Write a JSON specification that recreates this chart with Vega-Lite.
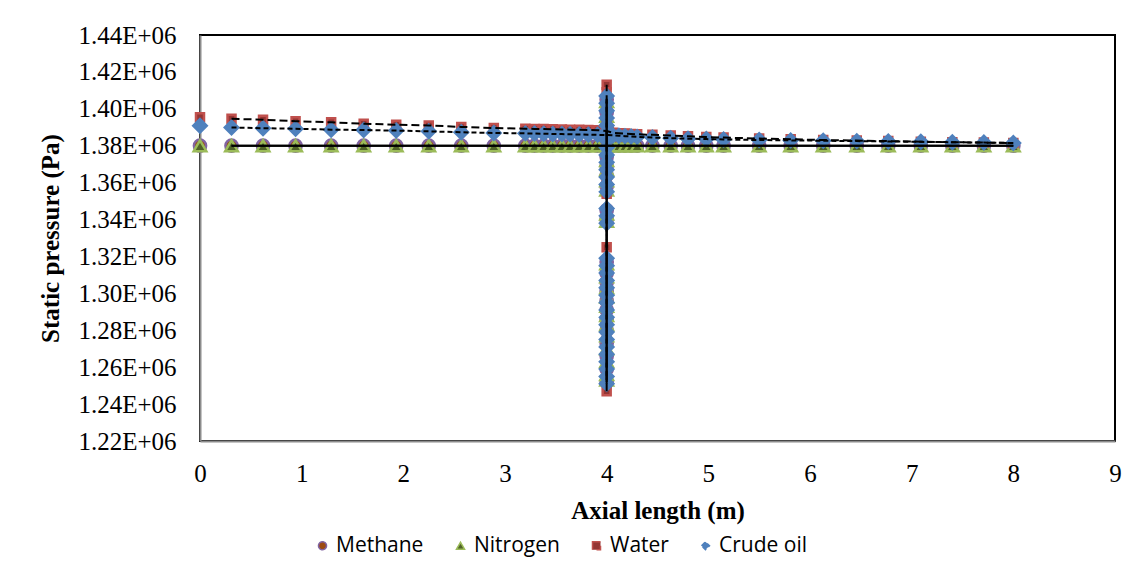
{
  "$schema": "https://vega.github.io/schema/vega-lite/v6.json",
  "width": 915,
  "height": 406,
  "autosize": "none",
  "padding": {"left": 200, "top": 35, "right": 29, "bottom": 145},
  "background": "white",
  "config": {
    "view": {"stroke": "#000000", "strokeWidth": 2},
    "axis": {
      "grid": false,
      "ticks": false,
      "domainColor": "#8c8c8c",
      "domainWidth": 2,
      "labelFont": "Liberation Serif",
      "labelFontSize": 25,
      "labelColor": "#000000",
      "labelFlush": false,
      "titleFont": "Liberation Serif",
      "titleFontSize": 25,
      "titleFontWeight": "bold",
      "titleColor": "#000000"
    },
    "legend": {
      "labelFont": "Open Sans",
      "labelFontSize": 21,
      "labelColor": "#000000",
      "symbolSize": 64,
      "symbolStrokeWidth": 1.5,
      "labelOffset": 3,
      "columnPadding": 26,
      "padding": 0
    }
  },
  "data": {
    "values": [
      {"s": "Methane", "b": "o", "x": 0, "y": 1380000},
      {"s": "Methane", "b": "h", "x": 0.31, "y": 1380000},
      {"s": "Methane", "b": "h", "x": 0.62, "y": 1380000},
      {"s": "Methane", "b": "h", "x": 0.94, "y": 1380000},
      {"s": "Methane", "b": "h", "x": 1.29, "y": 1380000},
      {"s": "Methane", "b": "h", "x": 1.61, "y": 1380000},
      {"s": "Methane", "b": "h", "x": 1.93, "y": 1380000},
      {"s": "Methane", "b": "h", "x": 2.25, "y": 1380000},
      {"s": "Methane", "b": "h", "x": 2.57, "y": 1380000},
      {"s": "Methane", "b": "h", "x": 2.89, "y": 1380000},
      {"s": "Methane", "b": "h", "x": 3.2, "y": 1380000},
      {"s": "Methane", "b": "h", "x": 3.29, "y": 1380000},
      {"s": "Methane", "b": "h", "x": 3.38, "y": 1380000},
      {"s": "Methane", "b": "h", "x": 3.47, "y": 1380000},
      {"s": "Methane", "b": "h", "x": 3.56, "y": 1380000},
      {"s": "Methane", "b": "h", "x": 3.64, "y": 1380000},
      {"s": "Methane", "b": "h", "x": 3.73, "y": 1380000},
      {"s": "Methane", "b": "h", "x": 3.82, "y": 1380000},
      {"s": "Methane", "b": "h", "x": 3.91, "y": 1380000},
      {"s": "Methane", "b": "h", "x": 4, "y": 1380000},
      {"s": "Methane", "b": "h", "x": 4.06, "y": 1380000},
      {"s": "Methane", "b": "h", "x": 4.12, "y": 1380000},
      {"s": "Methane", "b": "h", "x": 4.18, "y": 1380000},
      {"s": "Methane", "b": "h", "x": 4.24, "y": 1380000},
      {"s": "Methane", "b": "h", "x": 4.3, "y": 1380000},
      {"s": "Methane", "b": "h", "x": 4.45, "y": 1380000},
      {"s": "Methane", "b": "h", "x": 4.63, "y": 1380000},
      {"s": "Methane", "b": "h", "x": 4.8, "y": 1380000},
      {"s": "Methane", "b": "h", "x": 4.98, "y": 1380000},
      {"s": "Methane", "b": "h", "x": 5.15, "y": 1380000},
      {"s": "Methane", "b": "h", "x": 5.5, "y": 1380000},
      {"s": "Methane", "b": "h", "x": 5.81, "y": 1380000},
      {"s": "Methane", "b": "h", "x": 6.13, "y": 1380000},
      {"s": "Methane", "b": "h", "x": 6.46, "y": 1380000},
      {"s": "Methane", "b": "h", "x": 6.77, "y": 1380000},
      {"s": "Methane", "b": "h", "x": 7.09, "y": 1380000},
      {"s": "Methane", "b": "h", "x": 7.4, "y": 1380000},
      {"s": "Methane", "b": "h", "x": 7.71, "y": 1380000},
      {"s": "Methane", "b": "h", "x": 8.0, "y": 1380000},
      {"s": "Methane", "b": "v", "x": 4, "y": 1405000},
      {"s": "Methane", "b": "v", "x": 4, "y": 1398000},
      {"s": "Methane", "b": "v", "x": 4, "y": 1390000},
      {"s": "Methane", "b": "v", "x": 4, "y": 1374000},
      {"s": "Methane", "b": "v", "x": 4, "y": 1369000},
      {"s": "Methane", "b": "v", "x": 4, "y": 1364000},
      {"s": "Methane", "b": "v", "x": 4, "y": 1358000},
      {"s": "Methane", "b": "v", "x": 4, "y": 1345000},
      {"s": "Methane", "b": "v", "x": 4, "y": 1340000},
      {"s": "Methane", "b": "v", "x": 4, "y": 1317000},
      {"s": "Methane", "b": "v", "x": 4, "y": 1311000},
      {"s": "Methane", "b": "v", "x": 4, "y": 1306000},
      {"s": "Methane", "b": "v", "x": 4, "y": 1301000},
      {"s": "Methane", "b": "v", "x": 4, "y": 1296000},
      {"s": "Methane", "b": "v", "x": 4, "y": 1291000},
      {"s": "Methane", "b": "v", "x": 4, "y": 1286000},
      {"s": "Methane", "b": "v", "x": 4, "y": 1280000},
      {"s": "Methane", "b": "v", "x": 4, "y": 1273000},
      {"s": "Methane", "b": "v", "x": 4, "y": 1266000},
      {"s": "Methane", "b": "v", "x": 4, "y": 1259000},
      {"s": "Methane", "b": "v", "x": 4, "y": 1252000},

      {"s": "Nitrogen", "b": "o", "x": 0, "y": 1380000},
      {"s": "Nitrogen", "b": "h", "x": 0.31, "y": 1380000},
      {"s": "Nitrogen", "b": "h", "x": 0.62, "y": 1380000},
      {"s": "Nitrogen", "b": "h", "x": 0.94, "y": 1380000},
      {"s": "Nitrogen", "b": "h", "x": 1.29, "y": 1380000},
      {"s": "Nitrogen", "b": "h", "x": 1.61, "y": 1380000},
      {"s": "Nitrogen", "b": "h", "x": 1.93, "y": 1380000},
      {"s": "Nitrogen", "b": "h", "x": 2.25, "y": 1380000},
      {"s": "Nitrogen", "b": "h", "x": 2.57, "y": 1380000},
      {"s": "Nitrogen", "b": "h", "x": 2.89, "y": 1380000},
      {"s": "Nitrogen", "b": "h", "x": 3.2, "y": 1380000},
      {"s": "Nitrogen", "b": "h", "x": 3.29, "y": 1380000},
      {"s": "Nitrogen", "b": "h", "x": 3.38, "y": 1380000},
      {"s": "Nitrogen", "b": "h", "x": 3.47, "y": 1380000},
      {"s": "Nitrogen", "b": "h", "x": 3.56, "y": 1380000},
      {"s": "Nitrogen", "b": "h", "x": 3.64, "y": 1380000},
      {"s": "Nitrogen", "b": "h", "x": 3.73, "y": 1380000},
      {"s": "Nitrogen", "b": "h", "x": 3.82, "y": 1380000},
      {"s": "Nitrogen", "b": "h", "x": 3.91, "y": 1380000},
      {"s": "Nitrogen", "b": "h", "x": 4, "y": 1380000},
      {"s": "Nitrogen", "b": "h", "x": 4.06, "y": 1380000},
      {"s": "Nitrogen", "b": "h", "x": 4.12, "y": 1380000},
      {"s": "Nitrogen", "b": "h", "x": 4.18, "y": 1380000},
      {"s": "Nitrogen", "b": "h", "x": 4.24, "y": 1380000},
      {"s": "Nitrogen", "b": "h", "x": 4.3, "y": 1380000},
      {"s": "Nitrogen", "b": "h", "x": 4.45, "y": 1380000},
      {"s": "Nitrogen", "b": "h", "x": 4.63, "y": 1380000},
      {"s": "Nitrogen", "b": "h", "x": 4.8, "y": 1380000},
      {"s": "Nitrogen", "b": "h", "x": 4.98, "y": 1380000},
      {"s": "Nitrogen", "b": "h", "x": 5.15, "y": 1380000},
      {"s": "Nitrogen", "b": "h", "x": 5.5, "y": 1380000},
      {"s": "Nitrogen", "b": "h", "x": 5.81, "y": 1380000},
      {"s": "Nitrogen", "b": "h", "x": 6.13, "y": 1380000},
      {"s": "Nitrogen", "b": "h", "x": 6.46, "y": 1380000},
      {"s": "Nitrogen", "b": "h", "x": 6.77, "y": 1380000},
      {"s": "Nitrogen", "b": "h", "x": 7.09, "y": 1380000},
      {"s": "Nitrogen", "b": "h", "x": 7.4, "y": 1380000},
      {"s": "Nitrogen", "b": "h", "x": 7.71, "y": 1380000},
      {"s": "Nitrogen", "b": "h", "x": 8.0, "y": 1380000},
      {"s": "Nitrogen", "b": "v", "x": 4, "y": 1404000},
      {"s": "Nitrogen", "b": "v", "x": 4, "y": 1396000},
      {"s": "Nitrogen", "b": "v", "x": 4, "y": 1388000},
      {"s": "Nitrogen", "b": "v", "x": 4, "y": 1372000},
      {"s": "Nitrogen", "b": "v", "x": 4, "y": 1367000},
      {"s": "Nitrogen", "b": "v", "x": 4, "y": 1361000},
      {"s": "Nitrogen", "b": "v", "x": 4, "y": 1356000},
      {"s": "Nitrogen", "b": "v", "x": 4, "y": 1343000},
      {"s": "Nitrogen", "b": "v", "x": 4, "y": 1339000},
      {"s": "Nitrogen", "b": "v", "x": 4, "y": 1316000},
      {"s": "Nitrogen", "b": "v", "x": 4, "y": 1309000},
      {"s": "Nitrogen", "b": "v", "x": 4, "y": 1303000},
      {"s": "Nitrogen", "b": "v", "x": 4, "y": 1298000},
      {"s": "Nitrogen", "b": "v", "x": 4, "y": 1293000},
      {"s": "Nitrogen", "b": "v", "x": 4, "y": 1288000},
      {"s": "Nitrogen", "b": "v", "x": 4, "y": 1283000},
      {"s": "Nitrogen", "b": "v", "x": 4, "y": 1277000},
      {"s": "Nitrogen", "b": "v", "x": 4, "y": 1270000},
      {"s": "Nitrogen", "b": "v", "x": 4, "y": 1263000},
      {"s": "Nitrogen", "b": "v", "x": 4, "y": 1256000},
      {"s": "Nitrogen", "b": "v", "x": 4, "y": 1253000},

      {"s": "Water", "b": "o", "x": 0, "y": 1395400},
      {"s": "Water", "b": "h", "x": 0.31, "y": 1394600},
      {"s": "Water", "b": "h", "x": 0.62, "y": 1394100},
      {"s": "Water", "b": "h", "x": 0.94, "y": 1393300},
      {"s": "Water", "b": "h", "x": 1.29, "y": 1392700},
      {"s": "Water", "b": "h", "x": 1.61, "y": 1391900},
      {"s": "Water", "b": "h", "x": 1.93, "y": 1391400},
      {"s": "Water", "b": "h", "x": 2.25, "y": 1391000},
      {"s": "Water", "b": "h", "x": 2.57, "y": 1390200},
      {"s": "Water", "b": "h", "x": 2.89, "y": 1389600},
      {"s": "Water", "b": "h", "x": 3.2, "y": 1389200},
      {"s": "Water", "b": "h", "x": 3.29, "y": 1389100},
      {"s": "Water", "b": "h", "x": 3.38, "y": 1389000},
      {"s": "Water", "b": "h", "x": 3.47, "y": 1388900},
      {"s": "Water", "b": "h", "x": 3.56, "y": 1388800},
      {"s": "Water", "b": "h", "x": 3.64, "y": 1388700},
      {"s": "Water", "b": "h", "x": 3.73, "y": 1388600},
      {"s": "Water", "b": "h", "x": 3.82, "y": 1388500},
      {"s": "Water", "b": "h", "x": 3.91, "y": 1388400},
      {"s": "Water", "b": "h", "x": 4, "y": 1388000},
      {"s": "Water", "b": "h", "x": 4.06, "y": 1387000},
      {"s": "Water", "b": "h", "x": 4.12, "y": 1386800},
      {"s": "Water", "b": "h", "x": 4.18, "y": 1386600},
      {"s": "Water", "b": "h", "x": 4.24, "y": 1386400},
      {"s": "Water", "b": "h", "x": 4.3, "y": 1386200},
      {"s": "Water", "b": "h", "x": 4.45, "y": 1385900},
      {"s": "Water", "b": "h", "x": 4.63, "y": 1385500},
      {"s": "Water", "b": "h", "x": 4.8, "y": 1385100},
      {"s": "Water", "b": "h", "x": 4.98, "y": 1384700},
      {"s": "Water", "b": "h", "x": 5.15, "y": 1384400},
      {"s": "Water", "b": "h", "x": 5.5, "y": 1383900},
      {"s": "Water", "b": "h", "x": 5.81, "y": 1383500},
      {"s": "Water", "b": "h", "x": 6.13, "y": 1383100},
      {"s": "Water", "b": "h", "x": 6.46, "y": 1382800},
      {"s": "Water", "b": "h", "x": 6.77, "y": 1382500},
      {"s": "Water", "b": "h", "x": 7.09, "y": 1382200},
      {"s": "Water", "b": "h", "x": 7.4, "y": 1381900},
      {"s": "Water", "b": "h", "x": 7.71, "y": 1381700},
      {"s": "Water", "b": "h", "x": 8.0, "y": 1381500},
      {"s": "Water", "b": "v", "x": 4, "y": 1413000},
      {"s": "Water", "b": "v", "x": 4, "y": 1409000},
      {"s": "Water", "b": "v", "x": 4, "y": 1401000},
      {"s": "Water", "b": "v", "x": 4, "y": 1393000},
      {"s": "Water", "b": "v", "x": 4, "y": 1381000},
      {"s": "Water", "b": "v", "x": 4, "y": 1372000},
      {"s": "Water", "b": "v", "x": 4, "y": 1363000},
      {"s": "Water", "b": "v", "x": 4, "y": 1354000},
      {"s": "Water", "b": "v", "x": 4, "y": 1325000},
      {"s": "Water", "b": "v", "x": 4, "y": 1308000},
      {"s": "Water", "b": "v", "x": 4, "y": 1302000},
      {"s": "Water", "b": "v", "x": 4, "y": 1296000},
      {"s": "Water", "b": "v", "x": 4, "y": 1289000},
      {"s": "Water", "b": "v", "x": 4, "y": 1282000},
      {"s": "Water", "b": "v", "x": 4, "y": 1274000},
      {"s": "Water", "b": "v", "x": 4, "y": 1266000},
      {"s": "Water", "b": "v", "x": 4, "y": 1258000},
      {"s": "Water", "b": "v", "x": 4, "y": 1247000},

      {"s": "Crude oil", "b": "o", "x": 0, "y": 1390800},
      {"s": "Crude oil", "b": "h", "x": 0.31, "y": 1389900},
      {"s": "Crude oil", "b": "h", "x": 0.62, "y": 1389500},
      {"s": "Crude oil", "b": "h", "x": 0.94, "y": 1389200},
      {"s": "Crude oil", "b": "h", "x": 1.29, "y": 1388700},
      {"s": "Crude oil", "b": "h", "x": 1.61, "y": 1388500},
      {"s": "Crude oil", "b": "h", "x": 1.93, "y": 1388200},
      {"s": "Crude oil", "b": "h", "x": 2.25, "y": 1387800},
      {"s": "Crude oil", "b": "h", "x": 2.57, "y": 1387300},
      {"s": "Crude oil", "b": "h", "x": 2.89, "y": 1386900},
      {"s": "Crude oil", "b": "h", "x": 3.2, "y": 1386700},
      {"s": "Crude oil", "b": "h", "x": 3.29, "y": 1386600},
      {"s": "Crude oil", "b": "h", "x": 3.38, "y": 1386500},
      {"s": "Crude oil", "b": "h", "x": 3.47, "y": 1386400},
      {"s": "Crude oil", "b": "h", "x": 3.56, "y": 1386300},
      {"s": "Crude oil", "b": "h", "x": 3.64, "y": 1386200},
      {"s": "Crude oil", "b": "h", "x": 3.73, "y": 1386100},
      {"s": "Crude oil", "b": "h", "x": 3.82, "y": 1386000},
      {"s": "Crude oil", "b": "h", "x": 3.91, "y": 1385900},
      {"s": "Crude oil", "b": "h", "x": 4, "y": 1385800},
      {"s": "Crude oil", "b": "h", "x": 4.06, "y": 1385600},
      {"s": "Crude oil", "b": "h", "x": 4.12, "y": 1385400},
      {"s": "Crude oil", "b": "h", "x": 4.18, "y": 1385200},
      {"s": "Crude oil", "b": "h", "x": 4.24, "y": 1385000},
      {"s": "Crude oil", "b": "h", "x": 4.3, "y": 1384800},
      {"s": "Crude oil", "b": "h", "x": 4.45, "y": 1384400},
      {"s": "Crude oil", "b": "h", "x": 4.63, "y": 1384100},
      {"s": "Crude oil", "b": "h", "x": 4.8, "y": 1383800},
      {"s": "Crude oil", "b": "h", "x": 4.98, "y": 1383600},
      {"s": "Crude oil", "b": "h", "x": 5.15, "y": 1383400},
      {"s": "Crude oil", "b": "h", "x": 5.5, "y": 1383100},
      {"s": "Crude oil", "b": "h", "x": 5.81, "y": 1382900},
      {"s": "Crude oil", "b": "h", "x": 6.13, "y": 1382700},
      {"s": "Crude oil", "b": "h", "x": 6.46, "y": 1382500},
      {"s": "Crude oil", "b": "h", "x": 6.77, "y": 1382300},
      {"s": "Crude oil", "b": "h", "x": 7.09, "y": 1382100},
      {"s": "Crude oil", "b": "h", "x": 7.4, "y": 1381900},
      {"s": "Crude oil", "b": "h", "x": 7.71, "y": 1381700},
      {"s": "Crude oil", "b": "h", "x": 8.0, "y": 1381500},
      {"s": "Crude oil", "b": "v", "x": 4, "y": 1407000},
      {"s": "Crude oil", "b": "v", "x": 4, "y": 1403000},
      {"s": "Crude oil", "b": "v", "x": 4, "y": 1399000},
      {"s": "Crude oil", "b": "v", "x": 4, "y": 1395000},
      {"s": "Crude oil", "b": "v", "x": 4, "y": 1391000},
      {"s": "Crude oil", "b": "v", "x": 4, "y": 1387000},
      {"s": "Crude oil", "b": "v", "x": 4, "y": 1383000},
      {"s": "Crude oil", "b": "v", "x": 4, "y": 1379000},
      {"s": "Crude oil", "b": "v", "x": 4, "y": 1375000},
      {"s": "Crude oil", "b": "v", "x": 4, "y": 1371000},
      {"s": "Crude oil", "b": "v", "x": 4, "y": 1367000},
      {"s": "Crude oil", "b": "v", "x": 4, "y": 1363000},
      {"s": "Crude oil", "b": "v", "x": 4, "y": 1359000},
      {"s": "Crude oil", "b": "v", "x": 4, "y": 1355000},
      {"s": "Crude oil", "b": "v", "x": 4, "y": 1346000},
      {"s": "Crude oil", "b": "v", "x": 4, "y": 1342000},
      {"s": "Crude oil", "b": "v", "x": 4, "y": 1338000},
      {"s": "Crude oil", "b": "v", "x": 4, "y": 1319000},
      {"s": "Crude oil", "b": "v", "x": 4, "y": 1315000},
      {"s": "Crude oil", "b": "v", "x": 4, "y": 1311000},
      {"s": "Crude oil", "b": "v", "x": 4, "y": 1307000},
      {"s": "Crude oil", "b": "v", "x": 4, "y": 1303000},
      {"s": "Crude oil", "b": "v", "x": 4, "y": 1299000},
      {"s": "Crude oil", "b": "v", "x": 4, "y": 1295000},
      {"s": "Crude oil", "b": "v", "x": 4, "y": 1291000},
      {"s": "Crude oil", "b": "v", "x": 4, "y": 1287000},
      {"s": "Crude oil", "b": "v", "x": 4, "y": 1283000},
      {"s": "Crude oil", "b": "v", "x": 4, "y": 1279000},
      {"s": "Crude oil", "b": "v", "x": 4, "y": 1275000},
      {"s": "Crude oil", "b": "v", "x": 4, "y": 1271000},
      {"s": "Crude oil", "b": "v", "x": 4, "y": 1267000},
      {"s": "Crude oil", "b": "v", "x": 4, "y": 1263000},
      {"s": "Crude oil", "b": "v", "x": 4, "y": 1259000},
      {"s": "Crude oil", "b": "v", "x": 4, "y": 1255000},
      {"s": "Crude oil", "b": "v", "x": 4, "y": 1251000}
    ]
  },
  "encoding": {
    "x": {
      "field": "x",
      "type": "quantitative",
      "scale": {"domain": [0, 9], "nice": false, "zero": false},
      "axis": {
        "values": [0, 1, 2, 3, 4, 5, 6, 7, 8, 9],
        "labelPadding": 20,
        "title": "Axial length (m)",
        "titlePadding": 12
      }
    },
    "y": {
      "field": "y",
      "type": "quantitative",
      "scale": {"domain": [1220000, 1440000], "nice": false, "zero": false},
      "axis": {
        "values": [1220000, 1240000, 1260000, 1280000, 1300000, 1320000, 1340000, 1360000, 1380000, 1400000, 1420000, 1440000],
        "labelExpr": "replace(upper(format(datum.value, '.2e')), 'E+6', 'E+06')",
        "labelPadding": 24,
        "title": "Static pressure (Pa)",
        "titlePadding": 14
      }
    },
    "shape": {
      "field": "s",
      "type": "nominal",
      "scale": {
        "domain": ["Methane", "Nitrogen", "Water", "Crude oil"],
        "range": ["circle", "triangle-up", "square", "diamond"]
      },
      "legend": {
        "title": null,
        "orient": "none",
        "direction": "horizontal",
        "legendX": 112,
        "legendY": 500
      }
    },
    "fill": {
      "field": "s",
      "type": "nominal",
      "scale": {
        "domain": ["Methane", "Nitrogen", "Water", "Crude oil"],
        "range": ["#9c4a12", "#4f6228", "#943634", "#4f81bd"]
      },
      "legend": {
        "title": null,
        "orient": "none",
        "direction": "horizontal",
        "legendX": 112,
        "legendY": 500
      }
    },
    "stroke": {
      "field": "s",
      "type": "nominal",
      "scale": {
        "domain": ["Methane", "Nitrogen", "Water", "Crude oil"],
        "range": ["#8064a2", "#9bbb59", "#c0504d", "#4f81bd"]
      },
      "legend": {
        "title": null,
        "orient": "none",
        "direction": "horizontal",
        "legendX": 112,
        "legendY": 500
      }
    }
  },
  "layer": [
    {
      "transform": [{"filter": "datum.s === 'Methane'"}],
      "mark": {"type": "point", "filled": true, "strokeWidth": 2.5, "opacity": 1, "size": 150}
    },
    {
      "transform": [{"filter": "datum.s === 'Nitrogen'"}],
      "mark": {"type": "point", "filled": true, "strokeWidth": 2.5, "opacity": 1, "size": 160}
    },
    {
      "transform": [{"filter": "datum.s === 'Water'"}],
      "mark": {"type": "point", "filled": true, "strokeWidth": 2.5, "opacity": 1, "size": 64}
    },
    {
      "transform": [{"filter": "datum.s === 'Crude oil'"}],
      "mark": {"type": "point", "filled": true, "strokeWidth": 2, "opacity": 1, "size": 200}
    },
    {
      "transform": [{"filter": "datum.b === 'h'"}],
      "mark": {"type": "line", "strokeWidth": 2},
      "encoding": {
        "shape": null,
        "fill": null,
        "stroke": {"value": "#000000"},
        "detail": {"field": "s", "type": "nominal"},
        "strokeDash": {
          "field": "s",
          "type": "nominal",
          "scale": {
            "domain": ["Methane", "Nitrogen", "Water", "Crude oil"],
            "range": [[1, 0], [1, 0], [8, 4], [5, 3]]
          },
          "legend": null
        }
      }
    },
    {
      "transform": [{"filter": "datum.b === 'v'"}],
      "mark": {"type": "line", "strokeWidth": 2},
      "encoding": {
        "shape": null,
        "fill": null,
        "stroke": {"value": "#000000"},
        "detail": {"field": "s", "type": "nominal"},
        "order": {"field": "y", "type": "quantitative"},
        "strokeDash": {
          "field": "s",
          "type": "nominal",
          "scale": {
            "domain": ["Methane", "Nitrogen", "Water", "Crude oil"],
            "range": [[1, 0], [1, 0], [8, 4], [5, 3]]
          },
          "legend": null
        }
      }
    }
  ]
}
